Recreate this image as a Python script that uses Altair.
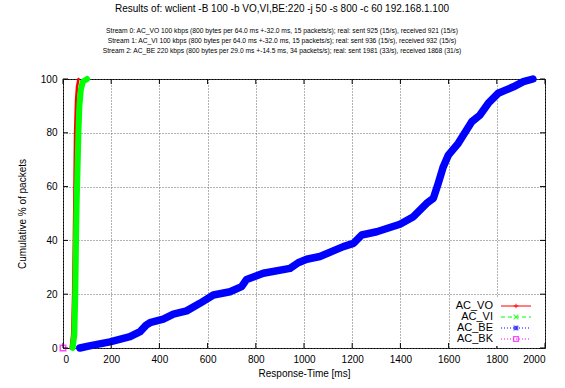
import altair as alt
import pandas as pd

# Cumulative distribution of response times per access category (ms, %)
vo_ms = [32, 38, 42, 45, 47, 50, 54, 58, 64]
vo_pct = [0, 5, 20, 40, 55, 80, 92, 97, 100]

vi_ms = [40, 47, 51, 54, 57, 64, 68, 74, 82, 100]
vi_pct = [0, 5, 20, 40, 55, 80, 90, 96, 99, 100]

be_ms = [70, 120, 195, 278, 320, 345, 361, 416, 458, 513, 568, 624, 693, 741,
         762, 831, 942, 976, 1011, 1066, 1163, 1205, 1239, 1302, 1398, 1454,
         1509, 1537, 1557, 1578, 1599, 1640, 1696, 1730, 1765, 1806, 1869,
         1910, 1950]
be_pct = [0, 1, 2.3, 4.2, 6.1, 8.5, 9.4, 10.7, 12.6, 13.8, 16.6, 19.7, 20.9,
          22.8, 25.5, 27.8, 29.6, 31.7, 33, 34, 37.7, 38.9, 42, 43.2, 46, 48.8,
          53.8, 55.7, 61.2, 67.4, 71.7, 76.1, 84.1, 86.6, 91, 94.7, 97.1, 99,
          100]

bk_ms = [0]
bk_pct = [0]

series_names = ["AC_VO", "AC_VI", "AC_BE", "AC_BK"]
series_colors = ["#ff0000", "#00ff00", "#0000ff", "#ff00ff"]
series_dash = [[1, 0], [4, 3], [1, 2], [1, 2]]
series_markers = [
    "M-1,0L1,0M0,-1L0,1",
    "M-1,-1L1,1M-1,1L1,-1",
    "M-1,0L1,0M0,-1L0,1M-1,-1L1,1M-1,1L1,-1",
    "M-1,-1L1,-1L1,1L-1,1Z",
]

x_ticks = [0, 200, 400, 600, 800, 1000, 1200, 1400, 1600, 1800, 2000]
y_ticks = [0, 20, 40, 60, 80, 100]

title_text = "Results of: wclient -B 100 -b VO,VI,BE:220 -j 50 -s 800 -c 60 192.168.1.100"
subtitle_lines = [
    "Stream 0: AC_VO 100 kbps (800 bytes per 64.0 ms +-32.0 ms, 15 packets/s); real: sent 925 (15/s), received 921 (15/s)",
    "Stream 1: AC_VI 100 kbps (800 bytes per 64.0 ms +-32.0 ms, 15 packets/s); real: sent 936 (15/s), received 932 (15/s)",
    "Stream 2: AC_BE 220 kbps (800 bytes per 29.0 ms +-14.5 ms, 34 packets/s); real: sent 1981 (33/s), received 1868 (31/s)",
]

W, H = 482, 269
FONT = "Liberation Sans"

x_scale = alt.Scale(domain=[0, 2000], nice=False, zero=False)
y_scale = alt.Scale(domain=[0, 100], nice=False)
color_scale = alt.Scale(domain=series_names, range=series_colors)
dash_scale = alt.Scale(domain=series_names, range=series_dash)
shape_scale = alt.Scale(domain=series_names, range=series_markers)

grid_style = dict(grid=True, gridDash=[1, 2], gridColor="#666666", gridWidth=1,
                  domain=False, ticks=False, tickSize=0, labelFont=FONT,
                  labelFontSize=10, labelColor="black", titleFont=FONT,
                  titleFontSize=10, titleFontWeight="normal", titleColor="black",
                  format="d")

x_axis = alt.Axis(values=x_ticks, title="Response-Time [ms]", labelPadding=6,
                  titlePadding=4, **grid_style)
y_axis = alt.Axis(values=y_ticks, title="Cumulative % of packets",
                  labelPadding=6, titlePadding=13, **grid_style)


def X(field):
    return alt.X(field, type="quantitative", scale=x_scale, axis=x_axis)


def Y(field):
    return alt.Y(field, type="quantitative", scale=y_scale, axis=y_axis)


def curve(ms, pct, name, width):
    df = pd.DataFrame({"ms": ms, "pct": pct, "series": name})
    return alt.Chart(df).mark_line(
        strokeWidth=width, strokeCap="round", strokeJoin="round"
    ).encode(
        x=X("ms"), y=Y("pct"),
        color=alt.Color("series:N", scale=color_scale, legend=None),
    )


vo = curve(vo_ms, vo_pct, "AC_VO", 2.5)
vi = curve(vi_ms, vi_pct, "AC_VI", 6)
be = curve(be_ms, be_pct, "AC_BE", 7.5)

bk = alt.Chart(pd.DataFrame({"ms": bk_ms, "pct": bk_pct, "series": "AC_BK"})).mark_point(
    filled=False, size=30, strokeWidth=1.5, clip=False
).encode(
    x=X("ms"), y=Y("pct"),
    color=alt.Color("series:N", scale=color_scale, legend=None),
    shape=alt.Shape("series:N", scale=shape_scale, legend=None),
)

# inward tick marks on all four sides of the frame
xt = pd.DataFrame({"t": x_ticks})
yt = pd.DataFrame({"t": y_ticks})
tick_len = 5
ticks_bottom = alt.Chart(xt).mark_rule(color="black").encode(
    x=X("t"), y=alt.value(H), y2=alt.value(H - tick_len))
ticks_top = alt.Chart(xt).mark_rule(color="black").encode(
    x=X("t"), y=alt.value(0), y2=alt.value(tick_len))
ticks_left = alt.Chart(yt).mark_rule(color="black").encode(
    y=Y("t"), x=alt.value(0), x2=alt.value(tick_len))
ticks_right = alt.Chart(yt).mark_rule(color="black").encode(
    y=Y("t"), x=alt.value(W), x2=alt.value(W - tick_len))

# key in the lower right corner
key_df = pd.DataFrame({"series": series_names, "i": list(range(len(series_names)))})
key_base = alt.Chart(key_df).transform_calculate(ky="227 + datum.i * 11")
key_bg = alt.Chart(pd.DataFrame({"k": [0]})).mark_rect(color="white").encode(
    x=alt.value(388), x2=alt.value(478), y=alt.value(219), y2=alt.value(267))
key_text = key_base.mark_text(
    align="right", baseline="middle", font=FONT, fontSize=11, color="black"
).encode(x=alt.value(430), y=alt.Y("ky:Q", scale=None), text="series:N")
key_line = key_base.mark_rule(strokeWidth=1.2).encode(
    x=alt.value(438), x2=alt.value(468), y=alt.Y("ky:Q", scale=None),
    color=alt.Color("series:N", scale=color_scale, legend=None),
    strokeDash=alt.StrokeDash("series:N", scale=dash_scale, legend=None),
)
key_mark = key_base.mark_point(filled=False, size=22, strokeWidth=1.3).encode(
    x=alt.value(453), y=alt.Y("ky:Q", scale=None),
    color=alt.Color("series:N", scale=color_scale, legend=None),
    shape=alt.Shape("series:N", scale=shape_scale, legend=None),
)

chart = alt.layer(
    vo, vi, be, bk,
    ticks_bottom, ticks_top, ticks_left, ticks_right,
    key_bg, key_text, key_line, key_mark,
).properties(
    width=W, height=H,
    autosize=alt.AutoSizeParams(type="none"),
    padding={"left": 63, "top": 79, "right": 20, "bottom": 40},
    title=alt.TitleParams(
        text=title_text, subtitle=subtitle_lines, anchor="middle", dx=-22,
        font=FONT, fontSize=10, fontWeight="normal", color="black",
        subtitleFont=FONT, subtitleFontSize=6.7, subtitleColor="black",
        subtitleLineHeight=10, subtitlePadding=14, offset=19,
    ),
).configure(background="white").configure_view(
    stroke="black", strokeWidth=1
)

chart.save("out.html", embed_options={"renderer": "svg", "actions": False})
